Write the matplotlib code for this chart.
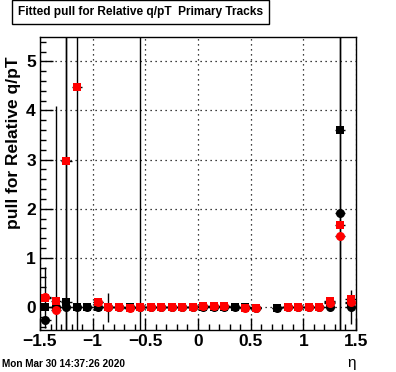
import numpy as np
import matplotlib.pyplot as plt
from matplotlib.ticker import MultipleLocator

plt.rcParams['font.family'] = ['Liberation Sans', 'DejaVu Sans']

nan = np.nan
# bin centres in eta
eta = np.round(np.arange(-1.45, 1.5, 0.1), 2)

# black circles
blk_c = [-0.27, 0.00, 0.00, 0.00, 0.00, 0.00, -0.01, -0.01, -0.01, -0.01,
         0.00, -0.01, -0.01, -0.01, -0.01, 0.00, 0.00, 0.00, 0.00, -0.01,
         -0.02, nan, -0.02, -0.01, 0.00, 0.00, -0.01, 0.00, 1.92, 0.00]
blk_c_err = [0.05, 4.10, 9.0, 0.04, 0.03, 0.03, 0.03, 0.03, 0.03, 9.0,
             0.03, 0.03, 0.03, 0.03, 0.03, 0.03, 0.03, 0.03, 0.03, 0.03,
             0.03, nan, 0.03, 0.03, 0.03, 0.03, 0.03, 0.03, 9.0, 0.35]
# black squares
blk_s = [0.00, 0.00, 0.09, 0.00, 0.00, 0.00, -0.01, -0.01, -0.01, -0.01,
         0.00, -0.01, -0.01, -0.01, -0.01, 0.00, 0.00, 0.00, 0.00, -0.01,
         -0.02, nan, -0.02, -0.01, 0.00, 0.00, -0.01, 0.10, 3.60, 0.07]
blk_s_err = [0.03] * 30
# red circles
red_c = [0.20, -0.06, nan, nan, nan, 0.10, -0.01, -0.01, -0.02, -0.01,
         -0.01, -0.01, -0.01, -0.01, -0.01, 0.02, 0.02, 0.01, nan, -0.02,
         -0.02, nan, nan, 0.00, 0.00, 0.00, -0.01, 0.08, 1.45, 0.10]
red_c_err = [0.62, 0.03, nan, nan, nan, 0.03, 0.30, 0.03, 0.03, 0.03,
             0.03, 0.03, 0.03, 0.03, 0.03, 0.03, 0.03, 0.03, nan, 0.03,
             0.03, nan, nan, 0.03, 0.03, 0.03, 0.03, 0.03, 9.0, 0.03]
# red squares
red_s = [0.18, 0.12, 2.97, 4.47, nan, 0.10, -0.01, -0.01, -0.02, -0.01,
         -0.01, -0.01, -0.01, -0.01, -0.01, 0.02, 0.02, 0.01, nan, -0.02,
         -0.02, nan, nan, 0.00, 0.00, 0.00, -0.01, 0.12, 1.67, 0.16]
red_s_err = [0.03, 0.03, 9.0, 9.0, nan, 0.03, 0.03, 0.03, 0.03, 0.03,
             0.03, 0.03, 0.03, 0.03, 0.03, 0.03, 0.03, 0.03, nan, 0.03,
             0.03, nan, nan, 0.03, 0.03, 0.03, 0.03, 0.03, 0.03, 0.03]

fig = plt.figure(figsize=(3.96, 3.72), dpi=100)
ax = fig.add_axes([0.101, 0.113, 0.798, 0.788])

series = [
    (blk_c, blk_c_err, 'black', 'o', 6.5),
    (blk_s, blk_s_err, 'black', 's', 5.4),
    (red_c, red_c_err, 'red', 'o', 6.5),
    (red_s, red_s_err, 'red', 's', 5.4),
]
for vals, errs, col, mk, ms in series:
    ax.errorbar(eta, vals, xerr=0.05, yerr=errs, fmt=mk, color=col, ms=ms,
                mew=0, ecolor='black', elinewidth=1.0, capsize=0, zorder=3)

ax.set_xlim(-1.5, 1.5)
ax.set_ylim(-0.47, 5.5)

ax.xaxis.set_major_locator(MultipleLocator(0.5))
ax.xaxis.set_minor_locator(MultipleLocator(0.1))
ax.yaxis.set_major_locator(MultipleLocator(1))
ax.yaxis.set_minor_locator(MultipleLocator(0.2))
ax.tick_params(which='both', direction='in', top=False, right=False,
               width=1, labelsize=12.5, pad=3)
ax.tick_params(which='major', length=9)
ax.tick_params(which='minor', length=4.5)
for lab in ax.get_yticklabels():
    lab.set_fontweight('bold')
ax.set_xticks([-1.5, -1, -0.5, 0, 0.5, 1, 1.5])
ax.set_xticklabels(['\u22121.5', '\u22121', '\u22120.5', '0', '0.5', '1', '1.5'],
                   fontweight='bold')
ax.grid(True, which='major', color='black', linestyle=(0, (1, 3)), linewidth=0.9)
for sp in ax.spines.values():
    sp.set_linewidth(1.0)

ax.set_ylabel('pull for Relative q/pT', fontsize=12.5, fontweight='bold',
              ha='right', va='center')
ax.yaxis.set_label_coords(-0.085, 0.935)

fig.text(0.887, 0.025, '\u03b7', fontsize=11, ha='center', va='center')
fig.text(0.005, 0.022, 'Mon Mar 30 14:37:26 2020', fontsize=7.2,
         fontweight='bold', ha='left', va='center')
fig.text(0.045, 0.969, 'Fitted pull for Relative q/pT  Primary Tracks',
         fontsize=8.6, fontweight='bold', ha='left', va='center',
         bbox=dict(boxstyle='square,pad=0.5', fc='white', ec='black', lw=1))

fig.savefig('out.png', dpi=100)
